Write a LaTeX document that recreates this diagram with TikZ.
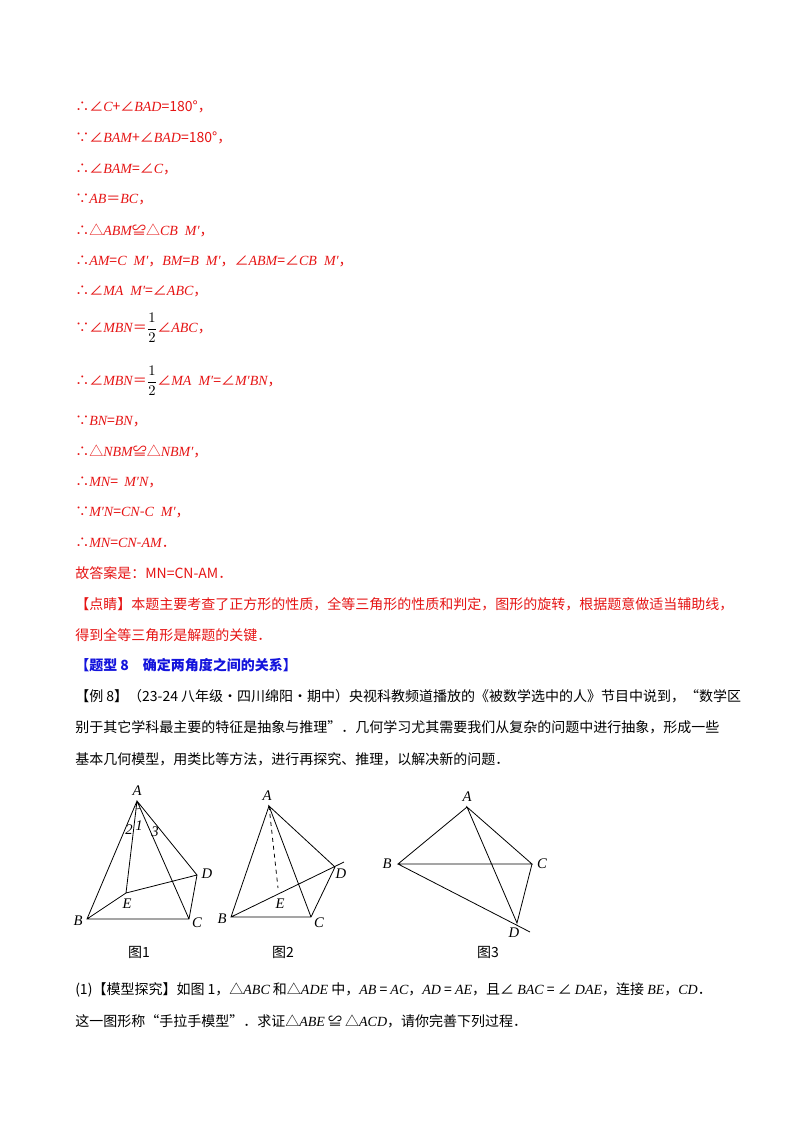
\documentclass[tikz,border=0pt]{standalone}
\usepackage{fontspec}
\usetikzlibrary{calc}
\setmainfont{Noto Sans CJK SC}
\newfontfamily\tm{Liberation Serif}
\newcommand\m[1]{{\tm\itshape #1}}
\definecolor{rd}{RGB}{230,20,20}
\definecolor{bl}{RGB}{20,20,220}
\begin{document}
\begin{tikzpicture}[x=0.75pt,y=-0.75pt,
  t/.style={anchor=west,inner sep=0pt,font=\fontsize{10.5pt}{12pt}\selectfont},
  r/.style={t,text=rd},
  ln/.style={line width=0.6pt},
  lb/.style={inner sep=1pt,font=\fontsize{11pt}{12pt}\selectfont\tm\itshape}]
\useasboundingbox[fill=white] (0,0) rectangle (800,1132);
\node[r] (l1) at (75,107) {∴∠\m{C}+∠\m{BAD}=180°，};
\node[r] (l2) at (75,138) {∵∠\m{BAM}+∠\m{BAD}=180°，};
\node[r] (l3) at (75,169) {∴∠\m{BAM}=∠\m{C}，};
\node[r] (l4) at (75,199) {∵\m{AB}＝\m{BC}，};
\node[r] (l5) at (75,230) {∴△\m{ABM}≌△\m{CB\ \ M′}，};
\node[r] (l6) at (75,261) {∴\m{AM}=\m{C\ \ M′}，\m{BM}=\m{B\ \ M′}，∠\m{ABM}=∠\m{CB\ \ M′}，};
\node[r] (l7) at (75,291) {∴∠\m{MA\ \ M′}=∠\m{ABC}，};
\node[r] (l8) at (75,328) {∵∠\m{MBN}＝\textcolor{black}{$\displaystyle\frac{1}{2}$}∠\m{ABC}，};
\node[r] (l9) at (75,381) {∴∠\m{MBN}＝\textcolor{black}{$\displaystyle\frac{1}{2}$}∠\m{MA\ \ M′}=∠\m{M′BN}，};
\node[r] (l10) at (75,421) {∵\m{BN}=\m{BN}，};
\node[r] (l11) at (75,451) {∴△\m{NBM}≌△\m{NBM′}，};
\node[r] (l12) at (75,482) {∴\m{MN}=\ \ \m{M′N}，};
\node[r] (l13) at (75,512) {∵\m{M′N}=\m{CN}-\m{C\ \ M′}，};
\node[r] (l14) at (75,543) {∴\m{MN}=\m{CN}-\m{AM}．};
\node[r] (l15) at (75,573) {故答案是：\textit{MN=CN-AM}．};
\node[r] (l16) at (75,604) {【点睛】本题主要考查了正方形的性质，全等三角形的性质和判定，图形的旋转，根据题意做适当辅助线，};
\node[r] (l17) at (75,635) {得到全等三角形是解题的关键．};
\node[t,text=bl,font=\fontsize{10.5pt}{12pt}\selectfont\bfseries] (l18) at (75,665) {【题型 8\quad 确定两角度之间的关系】};
\node[t] (l19) at (75,696) {【例 8】（23-24 八年级·四川绵阳·期中）央视科教频道播放的《被数学选中的人》节目中说到，“数学区};
\node[t] (l20) at (75,727) {别于其它学科最主要的特征是抽象与推理”．几何学习尤其需要我们从复杂的问题中进行抽象，形成一些};
\node[t] (l21) at (75,759) {基本几何模型，用类比等方法，进行再探究、推理，以解决新的问题．};
\node[t] (l22) at (75,990) {(1)【模型探究】如图 1，△\m{ABC} 和△\m{ADE} 中，\m{AB} = \m{AC}，\m{AD} = \m{AE}，且∠ \m{BAC} = ∠ \m{DAE}，连接 \m{BE}，\m{CD}．};
\node[t] (l23) at (75,1021) {这一图形称“手拉手模型”．求证△\m{ABE} ≌ △\m{ACD}，请你完善下列过程．};
% Figure 1
\coordinate (A1) at (137,801); \coordinate (B1) at (87,919); \coordinate (C1) at (189,919);
\coordinate (D1) at (197,875); \coordinate (E1) at (126,893);
\draw[ln] (A1)--(B1)--(C1)--(D1)--(A1)--(E1)--(B1) (E1)--(D1) (A1)--(C1);
\draw[line width=0.4pt] ($(A1)!6pt!(E1)$) arc[start angle=-97,end angle=-70,radius=6pt];
\node[lb] (a1) at (137,791) {A}; \node[lb] (b1) at (78,921) {B}; \node[lb] (c1) at (197,923) {C};
\node[lb] (d1) at (207,874) {D}; \node[lb] (e1) at (127,904) {E};
\node[lb] (n2) at (129,830) {2}; \node[lb] (n1) at (139,826) {1}; \node[lb] (n3) at (155,832) {3};
\node[t,anchor=center] (f1) at (139,952) {图1};
% Figure 2
\coordinate (A2) at (269,806); \coordinate (B2) at (231,917); \coordinate (C2) at (311,917);
\coordinate (D2) at (335,867); \coordinate (E2) at (278,888); \coordinate (X2) at (344,862);
\draw[ln] (A2)--(B2)--(C2)--(D2)--(A2)--(C2) (B2)--(X2);
\draw[ln,dashed] (A2)--(E2);
\node[lb] (a2) at (267,796) {A}; \node[lb] (b2) at (222,919) {B}; \node[lb] (c2) at (319,923) {C};
\node[lb] (d2) at (341,874) {D}; \node[lb] (e2) at (280,904) {E};
\node[t,anchor=center] (f2) at (283,952) {图2};
% Figure 3
\coordinate (A3) at (467,807); \coordinate (B3) at (398,864); \coordinate (C3) at (532,864);
\coordinate (D3) at (517,923); \coordinate (X3) at (530,932);
\draw[ln] (A3)--(B3)--(C3)--(A3)--(D3)--(C3) (B3)--(X3);
\node[lb] (a3) at (467,797) {A}; \node[lb] (b3) at (387,864) {B}; \node[lb] (c3) at (542,864) {C};
\node[lb] (d3) at (514,933) {D};
\node[t,anchor=center] (f3) at (488,952) {图3};
\end{tikzpicture}
\end{document}
